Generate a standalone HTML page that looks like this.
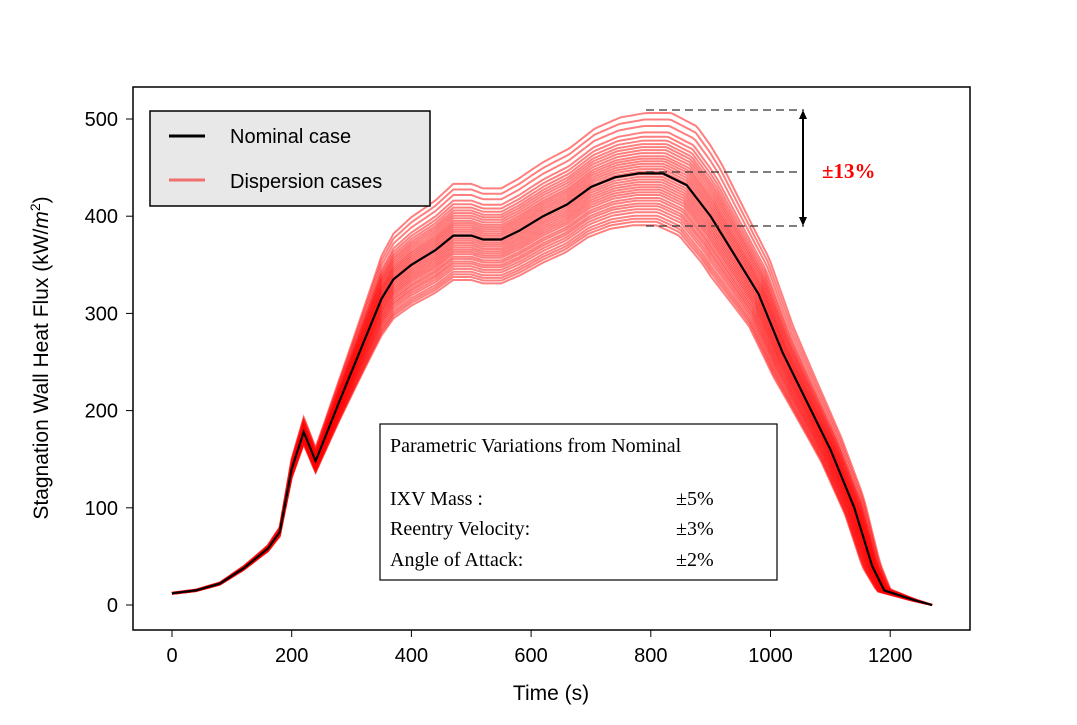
<!DOCTYPE html>
<html><head><meta charset="utf-8"><style>
body{margin:0;background:#fff;}
svg text{font-family:"Liberation Sans",sans-serif;}
.serif{font-family:"Liberation Serif",serif;}
</style></head><body>
<svg id="chart" width="1077" height="720" viewBox="0 0 1077 720">
<g id="disp"></g>
<g id="nom"></g>
<rect x="133" y="87" width="837" height="543" fill="none" stroke="#000" stroke-width="1.5"/>
<g id="xt"></g>
<g id="yt"></g>
<text x="551" y="700" font-size="21" text-anchor="middle">Time (s)</text>
<text transform="translate(48,358) rotate(-90)" font-size="21" text-anchor="middle">Stagnation Wall Heat Flux (kW/<tspan font-style="italic">m</tspan><tspan dy="-8" font-size="14">2</tspan><tspan dy="8">)</tspan></text>
<g>
<rect x="150" y="111" width="280" height="95" fill="#e8e8e8" stroke="#000" stroke-width="1.5"/>
<line x1="169" y1="136" x2="205" y2="136" stroke="#000" stroke-width="3"/>
<text x="230" y="143" font-size="20">Nominal case</text>
<line x1="169" y1="180" x2="205" y2="180" stroke="#f07070" stroke-width="3"/>
<text x="230" y="188" font-size="20">Dispersion cases</text>
</g>
<g stroke="#333" stroke-dasharray="8,5" stroke-width="1.3">
<line x1="646" y1="110" x2="804" y2="110"/>
<line x1="646" y1="172" x2="804" y2="172"/>
<line x1="646" y1="226" x2="804" y2="226"/>
</g>
<line x1="803" y1="116" x2="803" y2="220" stroke="#000" stroke-width="2"/>
<polygon points="803,110 799,119 807,119" fill="#000"/>
<polygon points="803,226 799,217 807,217" fill="#000"/>
<text x="822" y="178" class="serif" font-size="21" font-weight="bold" fill="#f00">±13%</text>
<g>
<rect x="380" y="424" width="397" height="156" fill="#fff" stroke="#000" stroke-width="1.2"/>
<text x="390" y="452" class="serif" font-size="20">Parametric Variations from Nominal</text>
<text x="390" y="505" class="serif" font-size="20">IXV Mass :</text>
<text x="676" y="505" class="serif" font-size="20">±5%</text>
<text x="390" y="535" class="serif" font-size="20">Reentry Velocity:</text>
<text x="676" y="535" class="serif" font-size="20">±3%</text>
<text x="390" y="566" class="serif" font-size="20">Angle of Attack:</text>
<text x="676" y="566" class="serif" font-size="20">±2%</text>
</g>
</svg>
<script>
const times=[0,40,80,120,160,180,200,220,240,280,320,350,370,400,440,470,500,520,550,580,620,660,700,740,780,820,860,900,940,980,1020,1060,1100,1140,1170,1190,1240,1270];
const nominal=[12,15,22,38,58,75,140,178,148,210,270,315,335,350,365,380,380,376,376,385,400,412,430,440,444,444,432,400,360,320,260,210,160,100,40,15,5,0];
const dispFactors=[0.88,0.888,0.895,0.902,0.91,0.917,0.924,0.93,0.937,0.943,0.95,0.956,0.962,0.968,0.974,0.98,0.986,0.992,0.998,1.004,1.01,1.016,1.022,1.028,1.034,1.04,1.047,1.054,1.061,1.068,1.076,1.085,1.095,1.11,1.125,1.14];
const xTicks=[0,200,400,600,800,1000,1200];
const yTicks=[0,100,200,300,400,500];
const X=t=>172+t*0.5985, Y=v=>605-v*0.972;
const NS='http://www.w3.org/2000/svg';
function interp(t){if(t<=times[0])return nominal[0];for(let i=1;i<times.length;i++){if(t<=times[i]){const f=(t-times[i-1])/(times[i]-times[i-1]);return nominal[i-1]+f*(nominal[i]-nominal[i-1]);}}return nominal[nominal.length-1];}
function warp(t){if(t<600)return 0;if(t<900)return (t-600)/300;if(t<1150)return 1;if(t<1270)return (1270-t)/120;return 0;}
function gain(t){if(t<150)return 0.4;if(t<350)return 0.4+0.6*(t-150)/200;if(t<900)return 1;if(t<1150)return 1-0.5*(t-900)/250;return 0.5;}
const disp=document.getElementById('disp');
dispFactors.forEach(k=>{let d='';for(let t=0;t<=1270;t+=5){const tn=t-(k-1)*130*warp(t);const v=interp(tn)*(1+(k-1)*gain(t));d+=(d?'L':'M')+X(t).toFixed(1)+','+Y(v).toFixed(1);}
const p=document.createElementNS(NS,'path');p.setAttribute('d',d);p.setAttribute('fill','none');p.setAttribute('stroke','#ff0000');p.setAttribute('stroke-opacity','0.5');p.setAttribute('stroke-width','2');


disp.appendChild(p);});
let nd='';times.forEach((t,i)=>{nd+=(i?'L':'M')+X(t).toFixed(1)+','+Y(nominal[i]).toFixed(1);});
const np=document.createElementNS(NS,'path');np.setAttribute('d',nd);np.setAttribute('fill','none');np.setAttribute('stroke','#000');np.setAttribute('stroke-width','2.2');


document.getElementById('nom').appendChild(np);
const xt=document.getElementById('xt');
xTicks.forEach(t=>{const l=document.createElementNS(NS,'line');l.setAttribute('x1',X(t));l.setAttribute('x2',X(t));l.setAttribute('y1',630);l.setAttribute('y2',637);l.setAttribute('stroke','#000');


xt.appendChild(l);const tx=document.createElementNS(NS,'text');tx.setAttribute('x',X(t));tx.setAttribute('y',662);tx.setAttribute('text-anchor','middle');tx.setAttribute('font-size','20');tx.textContent=t;


xt.appendChild(tx);});
const yt=document.getElementById('yt');
yTicks.forEach(v=>{const l=document.createElementNS(NS,'line');l.setAttribute('x1',126);l.setAttribute('x2',133);l.setAttribute('y1',Y(v));l.setAttribute('y2',Y(v));l.setAttribute('stroke','#000');


yt.appendChild(l);const tx=document.createElementNS(NS,'text');tx.setAttribute('x',118);tx.setAttribute('y',Y(v)+7);tx.setAttribute('text-anchor','end');tx.setAttribute('font-size','20');tx.textContent=v;


yt.appendChild(tx);});
</script>
</body></html>
